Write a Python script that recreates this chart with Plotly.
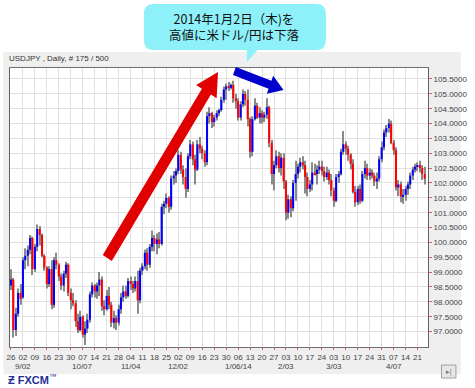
import math
import pandas as pd
import plotly.graph_objects as go

# ---------------- data (USD/JPY daily) ----------------
dates = pd.bdate_range("2013-08-26", "2014-04-24")

opens = [
    98.55, 98.75, 97.05, 97.60, 98.30,
    98.15, 99.40, 99.55, 99.75, 100.15,
    99.10, 99.85, 100.45, 100.25, 99.55,
    99.15, 98.60, 99.10, 97.90, 99.40,
    99.25, 98.85, 98.55, 98.95, 99.25,
    98.30, 98.05, 97.95, 97.35, 97.05,
    97.50, 96.90, 97.10, 97.40, 98.25,
    98.55, 98.35, 98.55, 98.75, 97.85,
    97.75, 98.20, 97.90, 97.30, 97.45,
    97.30, 97.75, 98.15, 98.35, 98.20,
    98.70, 98.60, 98.45, 98.70, 98.05,
    99.05, 99.20, 99.65, 99.25, 99.85,
    100.15, 99.95, 100.10, 99.95, 101.20,
    101.30, 101.50, 101.20, 102.15, 102.25,
    102.40, 102.95, 102.45, 102.20, 101.80,
    102.90, 103.30, 102.80, 102.45, 103.30,
    103.15, 103.00, 102.70, 104.25, 104.35,
    104.05, 104.20, 104.35, 104.45, 104.80,
    105.15, 105.25, 105.20, 105.30, 104.85,
    104.75, 104.20, 104.65, 105.00, 104.80,
    104.15, 103.05, 104.15, 104.60, 104.20,
    104.35, 104.20, 104.30, 104.55, 103.35,
    102.30, 102.60, 102.90, 102.50, 102.85,
    102.05, 101.00, 101.45, 101.15, 102.00,
    102.30, 102.55, 102.70, 102.60, 102.20,
    101.80, 101.95, 102.35, 102.30, 102.45,
    102.55, 102.40, 102.20, 102.35, 102.10,
    101.75, 101.40, 102.20, 102.30, 103.05,
    103.30, 103.15, 102.95, 102.65, 101.70,
    101.35, 101.80, 101.40, 102.30, 102.50,
    102.25, 102.35, 102.25, 102.05, 102.15,
    102.80, 103.20, 103.70, 103.85, 104.00,
    103.35, 103.10, 101.85, 101.95, 101.55,
    101.60, 101.80, 101.95, 102.25, 102.45,
    102.55, 102.60, 102.50, 102.30,
]
highs = [
    99.10, 98.80, 97.80, 98.45, 98.60,
    99.50, 99.80, 99.90, 100.25, 100.20,
    99.95, 100.60, 100.55, 100.30, 99.60,
    99.20, 99.20, 99.40, 99.50, 99.65,
    99.30, 98.95, 99.05, 99.35, 99.30,
    98.45, 98.30, 98.05, 97.60, 97.70,
    97.55, 97.35, 97.60, 98.35, 98.65,
    98.60, 98.65, 99.00, 98.85, 98.05,
    98.40, 98.50, 98.00, 97.70, 97.55,
    97.90, 98.30, 98.55, 98.55, 98.80,
    98.85, 98.70, 98.85, 99.05, 99.15,
    99.30, 99.75, 99.80, 99.95, 100.40,
    100.25, 100.30, 100.35, 101.30, 101.40,
    101.65, 101.55, 102.25, 102.40, 102.50,
    103.10, 103.05, 102.60, 102.50, 103.00,
    103.45, 103.40, 102.95, 103.45, 103.55,
    103.25, 103.10, 104.40, 104.55, 104.40,
    104.30, 104.45, 104.50, 104.90, 105.25,
    105.35, 105.40, 105.35, 105.44, 105.00,
    104.85, 104.75, 105.15, 105.10, 105.15,
    104.20, 104.25, 104.85, 104.70, 104.55,
    104.45, 104.40, 104.85, 104.60, 103.45,
    102.75, 103.10, 103.05, 103.00, 103.00,
    102.10, 101.60, 101.55, 102.10, 102.75,
    102.65, 102.85, 102.90, 102.75, 102.35,
    102.10, 102.70, 102.65, 102.60, 102.75,
    102.75, 102.55, 102.55, 102.45, 102.30,
    101.85, 102.30, 102.40, 103.15, 103.75,
    103.40, 103.25, 103.00, 102.80, 101.90,
    101.90, 101.95, 102.40, 102.75, 102.65,
    102.50, 102.45, 102.35, 102.35, 102.90,
    103.40, 103.80, 103.95, 104.15, 104.10,
    103.45, 103.20, 102.10, 102.05, 101.80,
    101.90, 102.05, 102.35, 102.55, 102.65,
    102.70, 102.75, 102.60, 102.55,
]
lows = [
    98.40, 96.80, 96.85, 97.50, 97.90,
    98.10, 99.10, 99.20, 99.60, 98.90,
    99.00, 99.70, 99.90, 99.50, 99.05,
    98.45, 98.50, 97.75, 97.80, 99.10,
    98.70, 98.40, 98.35, 98.80, 98.20,
    97.75, 97.85, 97.15, 96.95, 97.00,
    96.80, 96.55, 96.95, 97.30, 98.15,
    98.15, 98.10, 98.20, 97.70, 97.55,
    97.70, 97.75, 97.15, 97.10, 97.05,
    97.20, 97.60, 98.00, 98.10, 98.15,
    98.40, 98.30, 98.35, 97.60, 97.95,
    98.90, 99.10, 99.05, 99.15, 99.70,
    99.70, 99.60, 99.80, 99.90, 100.95,
    101.15, 101.00, 101.10, 101.95, 102.00,
    102.30, 102.30, 101.95, 101.50, 101.70,
    102.80, 102.60, 101.95, 102.40, 103.00,
    102.80, 102.55, 102.60, 104.00, 103.85,
    103.90, 104.10, 104.25, 104.40, 104.70,
    104.80, 105.10, 105.15, 104.70, 104.50,
    104.10, 104.10, 104.55, 104.60, 103.90,
    102.85, 102.90, 104.10, 104.15, 104.00,
    104.00, 104.05, 104.15, 103.20, 101.95,
    101.75, 102.50, 102.35, 102.25, 101.80,
    100.75, 100.80, 100.85, 101.05, 101.40,
    102.15, 102.35, 102.45, 101.65, 101.55,
    101.70, 101.75, 102.25, 101.95, 102.30,
    102.25, 102.05, 102.10, 101.95, 101.55,
    101.20, 101.35, 102.00, 102.25, 102.95,
    102.95, 102.75, 102.45, 101.65, 101.20,
    101.25, 101.30, 101.35, 102.15, 102.10,
    102.10, 102.15, 101.90, 101.80, 102.05,
    102.70, 103.10, 103.55, 103.70, 103.30,
    102.95, 101.75, 101.55, 101.35, 101.30,
    101.40, 101.60, 101.80, 102.10, 102.35,
    102.40, 102.35, 102.10, 101.95,
]
closes = [
    98.75, 97.05, 97.60, 98.30, 98.10,
    99.40, 99.55, 99.75, 100.15, 99.10,
    99.85, 100.45, 100.25, 99.55, 99.15,
    98.60, 99.10, 97.90, 99.40, 99.25,
    98.85, 98.55, 98.95, 99.25, 98.30,
    98.05, 97.95, 97.35, 97.05, 97.50,
    96.90, 97.10, 97.40, 98.25, 98.55,
    98.35, 98.55, 98.75, 97.85, 97.75,
    98.20, 97.90, 97.30, 97.45, 97.30,
    97.75, 98.15, 98.35, 98.20, 98.70,
    98.60, 98.45, 98.70, 98.05, 99.05,
    99.20, 99.65, 99.25, 99.85, 100.15,
    99.95, 100.10, 99.95, 101.20, 101.30,
    101.50, 101.20, 102.15, 102.25, 102.40,
    102.95, 102.45, 102.20, 101.80, 102.90,
    103.30, 102.80, 102.45, 103.30, 103.15,
    103.00, 102.70, 104.25, 104.35, 104.05,
    104.20, 104.35, 104.45, 104.80, 105.15,
    105.25, 105.20, 105.30, 104.85, 104.75,
    104.20, 104.65, 105.00, 104.80, 104.15,
    103.05, 104.15, 104.60, 104.20, 104.35,
    104.20, 104.30, 104.55, 103.35, 102.30,
    102.60, 102.90, 102.50, 102.85, 102.05,
    101.00, 101.45, 101.15, 102.00, 102.30,
    102.55, 102.70, 102.60, 102.20, 101.80,
    101.95, 102.35, 102.30, 102.45, 102.55,
    102.40, 102.20, 102.35, 102.10, 101.75,
    101.40, 102.20, 102.30, 103.05, 103.30,
    103.15, 102.95, 102.65, 101.70, 101.35,
    101.80, 101.40, 102.30, 102.50, 102.25,
    102.35, 102.25, 102.05, 102.15, 102.80,
    103.20, 103.70, 103.85, 104.00, 103.35,
    103.10, 101.85, 101.95, 101.55, 101.60,
    101.80, 101.95, 102.25, 102.45, 102.55,
    102.60, 102.50, 102.30, 102.15,
]
y_ticks = [97.0, 97.5, 98.0, 98.5, 99.0, 99.5, 100.0, 100.5, 101.0, 101.5,
           102.0, 102.5, 103.0, 103.5, 104.0, 104.5, 105.0, 105.5]

assert len(dates) == len(opens) == len(highs) == len(lows) == len(closes)

# ---------------- helpers (pixel -> paper) ----------------
W, H = 475, 388
PL, PR, PT, PB = 7, 441, 68, 347


def xp(x):
    return (x - PL) / (PR - PL)


def yp(y):
    return (PB - y) / (PB - PT)


def poly(points):
    return "M " + " L ".join(f"{xp(x):.5f},{yp(y):.5f}" for x, y in points) + " Z"


def arrow_path(tx, ty, hx, hy, sw, hw, hl):
    dx, dy = hx - tx, hy - ty
    ln = math.hypot(dx, dy)
    ux, uy = dx / ln, dy / ln
    nx, ny = -uy, ux
    bx, by = hx - hl * ux, hy - hl * uy
    pts = [(tx + sw * nx, ty + sw * ny), (bx + sw * nx, by + sw * ny),
           (bx + hw * nx, by + hw * ny), (hx, hy),
           (bx - hw * nx, by - hw * ny), (bx - sw * nx, by - sw * ny),
           (tx - sw * nx, ty - sw * ny)]
    return poly(pts)


def bubble_path(l, t, r, b, rad, tail):
    def P(x, y):
        return f"{xp(x):.5f},{yp(y):.5f}"
    s = f"M {P(l + rad, t)} L {P(r - rad, t)} Q {P(r, t)} {P(r, t + rad)}"
    s += f" L {P(r, b - rad)} Q {P(r, b)} {P(r - rad, b)}"
    s += f" L {P(tail[2][0], tail[2][1])} L {P(tail[1][0], tail[1][1])} L {P(tail[0][0], tail[0][1])}"
    s += f" L {P(l + rad, b)} Q {P(l, b)} {P(l, b - rad)}"
    s += f" L {P(l, t + rad)} Q {P(l, t)} {P(l + rad, t)} Z"
    return s


idx = list(range(len(dates)))
body_base = [min(o, c) for o, c in zip(opens, closes)]
body_h = [max(abs(c - o), 0.03) for o, c in zip(opens, closes)]
body_col = ["#0000ff" if c >= o else "#ff0000" for o, c in zip(opens, closes)]
wick_h = [h - l for h, l in zip(highs, lows)]

mondays = [i for i, d in enumerate(dates) if d.weekday() == 0]
day_labels = [f"{dates[i].day:02d}" for i in mondays]
month_ticks = [i for i in mondays if dates[i].day <= 7]
month_labels = []
for i in month_ticks:
    d = dates[i]
    lab = f"{d.month}/{d.day:02d}"
    if d.month == 1:
        lab += f"/{d.year % 100:02d}"
    month_labels.append(lab)

fig = go.Figure()
fig.add_trace(go.Bar(x=idx, y=wick_h, base=lows, width=0.42,
                     marker=dict(color="#8a8a8a", line=dict(width=0)),
                     hoverinfo="skip"))
fig.add_trace(go.Bar(x=idx, y=body_h, base=body_base, width=0.85,
                     marker=dict(color=body_col, line=dict(width=0)),
                     hoverinfo="skip"))

font_small = dict(family="Liberation Sans, Arial, sans-serif", size=8, color="#444444")

fig.update_layout(
    width=W, height=H,
    margin=dict(l=PL, r=W - PR, t=PT, b=H - PB),
    paper_bgcolor="white", plot_bgcolor="white",
    showlegend=False, barmode="overlay",
    xaxis=dict(range=[-0.4, 174.4], tickmode="array", tickvals=mondays,
               ticktext=day_labels, showgrid=True, gridcolor="#e1e1e1",
               gridwidth=1, ticks="outside", ticklen=2, tickcolor="#e06060",
               tickfont=font_small, showline=True, linecolor="#707070",
               mirror=True, zeroline=False),
    yaxis=dict(side="right", range=[96.48, 105.87], tickmode="array",
               tickvals=y_ticks, ticktext=[f"{v:.4f}" for v in y_ticks],
               showgrid=True, gridcolor="#e1e1e1", gridwidth=1,
               ticks="outside", ticklen=3, tickcolor="#e06060",
               tickfont=font_small, showline=True, linecolor="#606060",
               mirror=True, zeroline=False),
)

shapes = [
    dict(type="rect", xref="paper", yref="paper", x0=xp(0), x1=xp(W),
         y0=yp(374), y1=yp(52), fillcolor="#efefef", line=dict(width=0),
         layer="below"),
    dict(type="rect", xref="paper", yref="paper", x0=0, x1=1, y0=0, y1=1,
         fillcolor="white", line=dict(width=0), layer="below"),
    # arrows
    dict(type="path", xref="paper", yref="paper",
         path=arrow_path(108, 258, 223, 72, 5.5, 12.5, 23),
         fillcolor="#e00000", line=dict(width=0)),
    dict(type="path", xref="paper", yref="paper",
         path=arrow_path(240, 71, 291, 90, 4.2, 9.5, 15),
         fillcolor="#0000cc", line=dict(width=0)),
    # callout bubble
    dict(type="path", xref="paper", yref="paper",
         path=bubble_path(146, 4, 335, 50, 10, [(253, 50), (253, 62), (264, 50)]),
         fillcolor="#8ef1fa", line=dict(width=0)),
    # navigation button
    dict(type="rect", xref="paper", yref="paper", x0=xp(455), x1=xp(470),
         y0=yp(378), y1=yp(365), fillcolor="#e6e6e6",
         line=dict(color="#a0a0a0", width=1)),
]
fig.update_layout(shapes=shapes)

ann = [
    dict(xref="paper", yref="paper", x=xp(4), y=yp(58), xanchor="left",
         yanchor="middle", showarrow=False, text="USDJPY , Daily, # 175 / 500",
         font=dict(family="Liberation Sans, Arial, sans-serif", size=8, color="#333333")),
    dict(xref="paper", yref="paper", x=xp(240), y=yp(26.5), xanchor="center",
         yanchor="middle", showarrow=False,
         text="2014年1月2日（木)を<br>高値に米ドル/円は下落",
         font=dict(family="Noto Sans CJK JP", size=12.5, color="#111111")),
    dict(xref="paper", yref="paper", x=xp(3), y=yp(379), xanchor="left",
         yanchor="middle", showarrow=False,
         text="<b>Ƶ FXCM</b><sup>™</sup>",
         font=dict(family="Liberation Sans, Arial, sans-serif", size=11, color="#1f2f96")),
    dict(xref="paper", yref="paper", x=xp(462.5), y=yp(371.5), xanchor="center",
         yanchor="middle", showarrow=False, text="▸|",
         font=dict(family="DejaVu Sans", size=7, color="#777777")),
]
for i, lab in zip(month_ticks, month_labels):
    ann.append(dict(xref="x", yref="paper", x=i, y=yp(366), xanchor="center",
                    yanchor="middle", showarrow=False, text=lab, font=font_small))
fig.update_layout(annotations=ann)

fig.write_html(
    "out.html",
    config={"displayModeBar": False},
    post_script="document.body.style.margin='0';document.body.style.overflow='hidden';",
)
